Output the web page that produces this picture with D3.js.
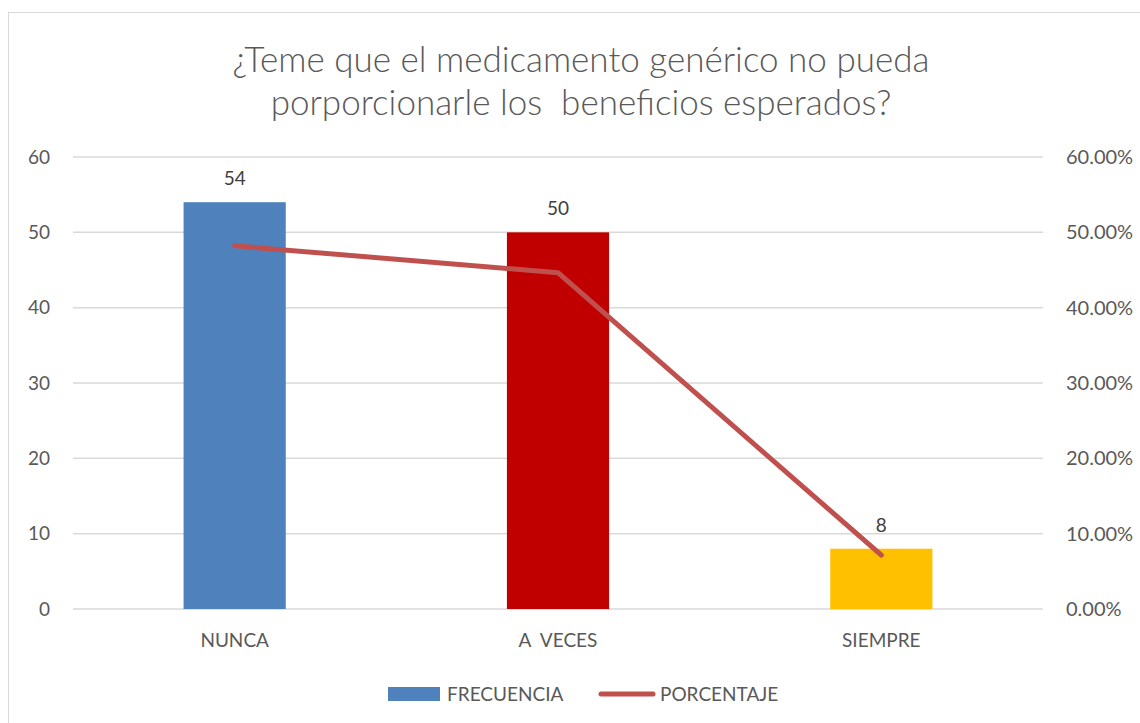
<!DOCTYPE html>
<html>
<head>
<meta charset="utf-8">
<script src="https://cdn.jsdelivr.net/npm/d3@7"></script>
<style>
  body { margin: 0; background: #fff; }
  text { font-family: Lato, "Open Sans", sans-serif; fill: #595959; }
</style>
</head>
<body>
<svg id="chart"></svg>
<script>
var categories = ['NUNCA', 'A  VECES', 'SIEMPRE'];
var frecuencia = [54, 50, 8];
var porcentaje = [0.4821, 0.4464, 0.0714];
var barColors = ['#4F81BD', '#C00000', '#FFC000'];
var leftTicks = [0, 10, 20, 30, 40, 50, 60];
var rightTicks = [0, 0.1, 0.2, 0.3, 0.4, 0.5, 0.6];
var titleLines = ['¿Teme que el medicamento genérico no pueda', 'porporcionarle los  beneficios esperados?'];

var width = 1140, height = 723;
var plotLeft = 73, plotRight = 1043, plotTop = 157, plotBottom = 609;

var svg = d3.select('#chart')
  .attr('width', width)
  .attr('height', height);

svg.append('rect')
  .attr('x', 8.5).attr('y', 12.5)
  .attr('width', 1140).attr('height', 720)
  .attr('fill', '#fff')
  .attr('stroke', '#D9D9D9');

var x = d3.scaleBand()
  .domain(categories)
  .range([plotLeft, plotRight])
  .paddingInner(0.684)
  .paddingOuter(0.342);
var y = d3.scaleLinear().domain([0, 60]).range([plotBottom, plotTop]);
var y2 = d3.scaleLinear().domain([0, 0.6]).range([plotBottom, plotTop]);

// gridlines
svg.append('g')
  .selectAll('line')
  .data(leftTicks)
  .enter()
  .append('line')
    .attr('x1', plotLeft).attr('x2', plotRight)
    .attr('y1', d => y(d)).attr('y2', d => y(d))
    .attr('stroke', '#D9D9D9')
    .attr('stroke-width', 1.5);

// left axis labels
svg.append('g')
  .selectAll('text')
  .data(leftTicks)
  .enter()
  .append('text')
    .attr('x', 50)
    .attr('y', d => y(d))
    .attr('dy', '0.35em')
    .style('text-anchor', 'end')
    .style('font-size', '19px')
    .text(d => d);

// right axis labels
svg.append('g')
  .selectAll('text')
  .data(rightTicks)
  .enter()
  .append('text')
    .attr('x', 1066)
    .attr('y', d => y2(d))
    .attr('dy', '0.35em')
    .style('font-size', '20px')
    .text(d => d3.format('.2%')(d));

// bars
svg.append('g')
  .selectAll('rect')
  .data(frecuencia)
  .enter()
  .append('rect')
    .attr('x', (d, i) => x(categories[i]))
    .attr('y', d => y(d))
    .attr('width', x.bandwidth())
    .attr('height', d => y(0) - y(d))
    .attr('fill', (d, i) => barColors[i]);

// bar labels
svg.append('g')
  .selectAll('text')
  .data(frecuencia)
  .enter()
  .append('text')
    .attr('x', (d, i) => x(categories[i]) + x.bandwidth() / 2)
    .attr('y', d => y(d) - 17)
    .style('text-anchor', 'middle')
    .style('font-size', '19px')
    .style('fill', '#404040')
    .text(d => d);

// line
var line = d3.line()
  .x((d, i) => x(categories[i]) + x.bandwidth() / 2)
  .y(d => y2(d));
svg.append('path')
  .datum(porcentaje)
  .attr('d', line)
  .attr('fill', 'none')
  .attr('stroke', '#C0504D')
  .attr('stroke-width', 5)
  .attr('stroke-linecap', 'round')
  .attr('stroke-linejoin', 'round');

// category labels
svg.append('g')
  .selectAll('text')
  .data(categories)
  .enter()
  .append('text')
    .attr('x', d => x(d) + x.bandwidth() / 2)
    .attr('y', 647)
    .style('text-anchor', 'middle')
    .style('font-size', '19px')
    .attr('xml:space', 'preserve')
    .text(d => d);

// title
svg.append('g')
  .selectAll('text')
  .data(titleLines)
  .enter()
  .append('text')
    .attr('x', 581)
    .attr('y', (d, i) => 72 + i * 43)
    .style('text-anchor', 'middle')
    .style('font-size', '35px')
    .style('font-weight', 300)
    .attr('xml:space', 'preserve')
    .text(d => d);

// legend
var legend = svg.append('g');
legend.append('rect')
  .attr('x', 388).attr('y', 687)
  .attr('width', 52).attr('height', 14)
  .attr('fill', barColors[0]);
legend.append('text')
  .attr('x', 447).attr('y', 694)
  .attr('dy', '0.35em')
  .style('font-size', '19px')
  .text('FRECUENCIA');
legend.append('line')
  .attr('x1', 601).attr('x2', 653)
  .attr('y1', 694).attr('y2', 694)
  .attr('stroke', '#C0504D')
  .attr('stroke-width', 5)
  .attr('stroke-linecap', 'round');
legend.append('text')
  .attr('x', 660).attr('y', 694)
  .attr('dy', '0.35em')
  .style('font-size', '19px')
  .text('PORCENTAJE');
</script>
</body>
</html>
